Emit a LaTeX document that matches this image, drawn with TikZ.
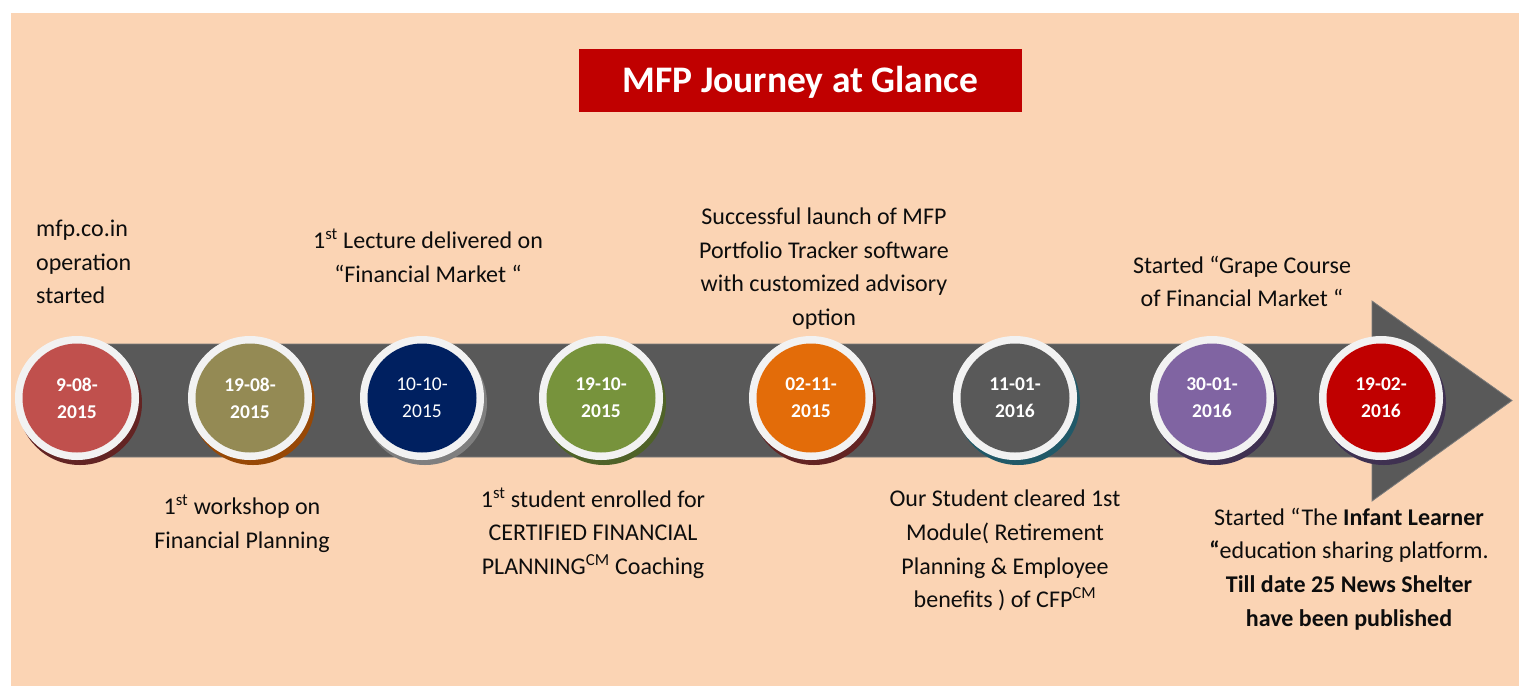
\documentclass[tikz,border=0pt]{standalone}
\usepackage{fontspec}
\setmainfont{Carlito}
\definecolor{peach}{HTML}{FBD4B4}
\definecolor{titlered}{HTML}{C00000}
\definecolor{barGray}{HTML}{595959}
\definecolor{ringWhite}{HTML}{F2F2F2}
\definecolor{inkText}{HTML}{0D0D0D}
% milestone fills
\definecolor{cA}{HTML}{C0504D}
\definecolor{cB}{HTML}{948A54}
\definecolor{cC}{HTML}{002060}
\definecolor{cD}{HTML}{77933C}
\definecolor{cE}{HTML}{E36C09}
\definecolor{cF}{HTML}{595959}
\definecolor{cG}{HTML}{8064A2}
\definecolor{cH}{HTML}{C00000}
% milestone shadows
\definecolor{sA}{HTML}{632423}
\definecolor{sB}{HTML}{974806}
\definecolor{sC}{HTML}{7F7F7F}
\definecolor{sD}{HTML}{4F6228}
\definecolor{sE}{HTML}{632423}
\definecolor{sF}{HTML}{215968}
\definecolor{sG}{HTML}{3F3151}
\definecolor{sH}{HTML}{3F3151}
\begin{document}
\begin{tikzpicture}[x=1pt,y=-1pt,
  titlebox/.style={fill=titlered,text=white,font=\fontsize{37.5}{44}\selectfont\bfseries,
    minimum width=443pt,minimum height=63pt,inner sep=0pt,text height=24pt,text depth=0pt},
  arrowbody/.style={fill=barGray,draw=barGray!80!white,line width=0.8pt},
  datebold/.style={circle,minimum size=109pt,inner sep=0pt,text=white,align=center,
    font=\fontsize{19.5}{27}\selectfont\bfseries},
  datereg/.style={datebold,font=\fontsize{19.5}{27}\selectfont},
  note/.style={text=inkText,align=center,inner sep=0pt,font=\fontsize{24}{33.7}\selectfont},
]
\useasboundingbox (0,0) rectangle (1519,686);
\fill[peach] (11,13) rectangle (1519,686);

\node[titlebox] (title) at (800.5,80) {MFP Journey at Glance};

% the timeline arrow
\draw[arrowbody] (100,344) -- (1372,344) -- (1372,301) -- (1512,400.5)
  -- (1372,501) -- (1372,457) -- (100,457) -- cycle;

% milestones: name / x / fill / shadow / style / date
\foreach \n/\x/\c/\s/\st/\d in {
  m1/77/cA/sA/datebold/{9-08-\\2015},
  m2/250/cB/sB/datebold/{19-08-\\2015},
  m3/422/cC/sC/datereg/{10-10-\\2015},
  m4/601/cD/sD/datebold/{19-10-\\2015},
  m5/811/cE/sE/datebold/{02-11-\\2015},
  m6/1015/cF/sF/datebold/{11-01-\\2016},
  m7/1212/cG/sG/datebold/{30-01-\\2016},
  m8/1381/cH/sH/datebold/{19-02-\\2016}}{
  \fill[\s] (\x+3,403) circle (62);
  \fill[ringWhite] (\x,398) circle (62);
  \node[\st,fill=\c] (\n) at (\x,398) {\d};
}

% descriptions above the arrow
\node[note,align=left,anchor=west] (t1) at (36,262)
  {mfp.co.in\\operation\\started};
\node[note] (t3) at (428,255.5)
  {1\textsuperscript{st} Lecture delivered on\\``Financial Market ``};
\node[note] (t5) at (824,268.5)
  {Successful launch of MFP\\Portfolio Tracker software\\with customized advisory\\option};
\node[note] (t7) at (1242,281.5)
  {Started ``Grape Course\\of Financial Market ``};

% descriptions below the arrow
\node[note] (t2) at (242,524)
  {1\textsuperscript{st} workshop on\\Financial Planning};
\node[note] (t4) at (593,533)
  {1\textsuperscript{st} student enrolled for\\CERTIFIED FINANCIAL\\PLANNING\textsuperscript{CM} Coaching};
\node[note] (t6) at (1005,550.5)
  {Our Student cleared 1st\\Module( Retirement\\Planning \& Employee\\benefits ) of CFP\textsuperscript{CM}};
\node[note] (t8) at (1349,569)
  {Started ``The \textbf{Infant Learner}\\\textbf{``}education sharing platform.\\\textbf{Till date 25 News Shelter}\\\textbf{have been published}};
\end{tikzpicture}
\end{document}
